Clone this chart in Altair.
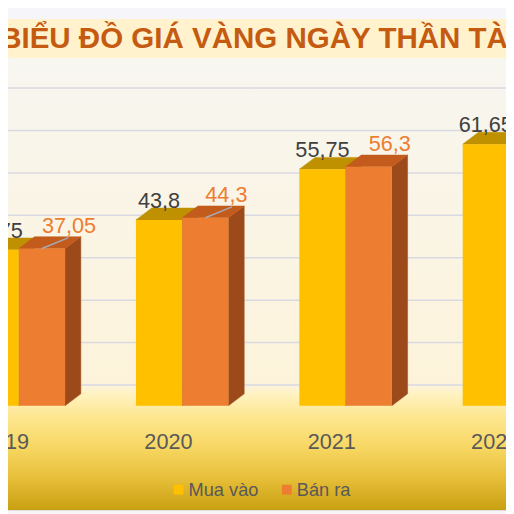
import altair as alt
import pandas as pd

# ---- data ----
years = [2019, 2020, 2021, 2022]
mua_vao = [36.75, 43.8, 55.75, 61.65]
ban_ra = [37.05, 44.3, 56.3, 62.35]   # last value is off-picture (estimate)
series = ["Mua vào", "Bán ra"]
leader_line = [1, 1, 0, 0]
grid_values = [0, 10, 20, 30, 40, 50, 60, 70]
title_text = "BIỂU ĐỒ GIÁ VÀNG NGÀY THẦN TÀI"

rows = []
for i, yr in enumerate(years):
    rows.append(dict(year=yr, series=series[0], sidx=0, value=mua_vao[i], leader=0))
    rows.append(dict(year=yr, series=series[1], sidx=1, value=ban_ra[i], leader=leader_line[i]))
df = pd.DataFrame(rows)
grid_df = pd.DataFrame({"g": grid_values})
year_df = pd.DataFrame({"year": years})
dummy = pd.DataFrame({"d": [0]})

# ---- geometry / style ----
WIDTH, HEIGHT = 506, 506
PX_X = 166.0          # pixels per category
PX_Y = 4.31           # pixels per value unit
W = 47 / PX_X
DX = 16 / PX_X
DY = 12 / PX_Y
LX = 27 / PX_X
LY = 11 / PX_Y
WALL = 21 / PX_Y
FONT = "Liberation Sans, Arial, sans-serif"

xs = alt.Scale(domain=[2019, 2022], range=[11, 509], nice=False, zero=False)
ys = alt.Scale(domain=[0, 70], range=[400, 400 - 70 * PX_Y], nice=False, zero=False)

color_scale = alt.Scale(domain=series, range=["#FFC000", "#ED7D31"])
legend = alt.Legend(
    orient="none", legendX=164, legendY=476, direction="horizontal", title=None,
    symbolType="square", symbolSize=100, symbolStrokeWidth=0,
    labelFontSize=18.5, labelFont=FONT, labelColor="#595959",
    columnPadding=19, labelOffset=1,
)


def grad(stops):
    return alt.Gradient(
        gradient="linear", x1=0, x2=0, y1=0, y2=1,
        stops=[alt.GradientStop(color=c, offset=o) for o, c in stops],
    )


def band(y0, y1, fill):
    return alt.Chart(dummy).mark_rect(fill=fill).encode(
        x=alt.value(0), x2=alt.value(WIDTH), y=alt.value(y0), y2=alt.value(y1)
    )


bg_top = band(0, 7, "#f6f6fa")
bg_title = band(7, 47, "#fff2cc")
bg_wall = band(47, 381, grad([(0, "#f7f6f0"), (1, "#fdf3da")]))
bg_floor = band(380, HEIGHT, grad([
    (0, "#fdf3dc"), (0.055, "#fff3c4"), (0.25, "#fde68f"),
    (0.5, "#f7d762"), (0.75, "#e6be38"), (1, "#c9a010"),
]))

grid = alt.Chart(grid_df).transform_calculate(
    gy=f"datum.g + {WALL}"
).mark_rule(color="#d9d9e2", strokeWidth=1.5).encode(
    x=alt.value(0), x2=alt.value(WIDTH),
    y=alt.Y("gy:Q", scale=ys, axis=None),
)

base = alt.Chart(df).transform_calculate(
    x0=f"datum.year + (datum.sidx - 1) * {W}",
    x1=f"datum.year + datum.sidx * {W}",
    zero="0",
)


def bar_layers(sname, front_col, top_col, side_col):
    b = base.transform_filter(alt.datum.series == sname)
    side = b.transform_calculate(k="sequence(0, 2)").transform_flatten(["k"]).transform_calculate(
        ax=f"datum.x1 + datum.k * {DX}",
        ay=f"datum.k * {DY}",
        ay2=f"datum.value + datum.k * {DY}",
    ).mark_area(color=side_col, clip=True, stroke=side_col, strokeWidth=0.5).encode(
        x=alt.X("ax:Q", scale=xs, axis=None),
        y=alt.Y("ay:Q", scale=ys, axis=None),
        y2="ay2:Q",
        detail="year:N",
    )
    top = b.transform_calculate(k="sequence(0, 4)").transform_flatten(["k"]).transform_calculate(
        ax=f"datum.x0 + ((datum.k == 1 || datum.k == 3) ? {DX} : 0) + (datum.k >= 2 ? {W} : 0)",
        ay=f"datum.value + (datum.k == 3 ? {DY} : 0)",
        ay2=f"datum.value + (datum.k >= 1 ? {DY} : 0)",
    ).mark_area(color=top_col, clip=True, stroke=top_col, strokeWidth=0.5).encode(
        x=alt.X("ax:Q", scale=xs, axis=None),
        y=alt.Y("ay:Q", scale=ys, axis=None),
        y2="ay2:Q",
        detail="year:N",
    )
    front = b.mark_rect(clip=True).encode(
        x=alt.X("x0:Q", scale=xs, axis=None),
        x2="x1:Q",
        y=alt.Y("value:Q", scale=ys, axis=None),
        y2="zero:Q",
        color=alt.Color("series:N", scale=color_scale, legend=legend),
    )
    return [side, top, front]


buy_layers = bar_layers(series[0], "#FFC000", "#BF9000", "#9A7400")
sell_layers = bar_layers(series[1], "#ED7D31", "#C25B1B", "#9C4A1A")

leaders = base.transform_filter(alt.datum.leader == 1).transform_calculate(
    lx=f"datum.x0 + {W / 2}", lx2=f"datum.x0 + {W / 2 + LX}",
    ly2=f"datum.value + {LY}",
).mark_rule(color="#a7a9b4", strokeWidth=1.5).encode(
    x=alt.X("lx:Q", scale=xs, axis=None), x2="lx2:Q",
    y=alt.Y("value:Q", scale=ys, axis=None), y2="ly2:Q",
)

lab_expr = "replace(toString(datum.value), '.', ',')"
buy_labels = base.transform_filter(alt.datum.sidx == 0).transform_calculate(
    xc=f"datum.x0 + {W / 2}", lab=lab_expr
).mark_text(align="center", baseline="alphabetic", dy=-12, fontSize=22,
            font=FONT, color="#404040").encode(
    x=alt.X("xc:Q", scale=xs, axis=None),
    y=alt.Y("value:Q", scale=ys, axis=None),
    text="lab:N",
)
sell_labels = base.transform_filter(alt.datum.sidx == 1).transform_calculate(
    xc=f"datum.x0 + {W / 2}", lab=lab_expr
).mark_text(align="left", baseline="alphabetic", dy=-16, fontSize=22,
            font=FONT, color="#ED7D31").encode(
    x=alt.X("xc:Q", scale=xs, axis=None),
    y=alt.Y("value:Q", scale=ys, axis=None),
    text="lab:N",
)

axis_labels = alt.Chart(year_df).mark_text(
    align="center", baseline="alphabetic", dx=-14, fontSize=22, font=FONT, color="#595959"
).encode(
    x=alt.X("year:Q", scale=xs, axis=None),
    y=alt.value(444),
    text=alt.Text("year:Q", format="d"),
)

title = alt.Chart(dummy).mark_text(
    text=title_text, align="left", baseline="alphabetic", fontSize=30,
    fontWeight="bold", font=FONT, color="#C55A11",
).encode(x=alt.value(-8), y=alt.value(37))

chart = alt.layer(
    bg_top, bg_title, bg_wall, bg_floor, grid,
    *buy_layers, *sell_layers,
    leaders, buy_labels, sell_labels, axis_labels, title,
).properties(
    width=WIDTH, height=HEIGHT, padding=0,
    autosize=alt.AutoSizeParams(type="none"),
).configure_view(stroke=None).configure(background="#f6f6fa")

chart.save("out.html", embed_options={"renderer": "svg", "actions": False})
